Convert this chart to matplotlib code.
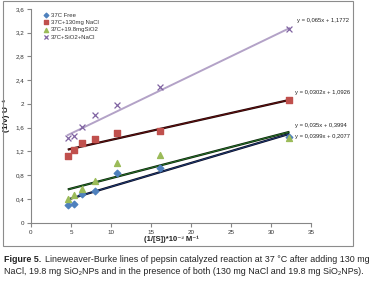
import numpy as np
from matplotlib import pyplot as plt
from matplotlib.patches import Rectangle

# 1/[S] values (x 10^-3 M^-1), same for all four series
s_inv = [4.6, 5.4, 6.4, 8.0, 10.7, 16.1, 32.3]

free = [0.30, 0.315, 0.48, 0.535, 0.845, 0.92, 1.45]
nacl = [1.125, 1.23, 1.35, 1.41, 1.51, 1.55, 2.07]
sio2 = [0.40, 0.47, 0.56, 0.71, 1.00, 1.14, 1.42]
both = [1.42, 1.46, 1.62, 1.81, 1.99, 2.29, 3.26]

# trendline fits as printed on the chart (slope, intercept)
fit_free = (0.0399, 0.2077)
fit_nacl = (0.0302, 1.0926)
fit_sio2 = (0.035, 0.3994)
fit_both = (0.065, 1.1772)

labels = ['37C Free', '37C+130mg NaCl', '37C+19.8mgSiO2', '37C+SiO2+NaCl']
eq_text = ['y = 0,0399x + 0,2077', 'y = 0,0302x + 1,0926',
           'y = 0,035x + 0,3994', 'y = 0,065x + 1,1772']

xticks = [0, 5, 10, 15, 20, 25, 30, 35]
yticks = [0, 0.4, 0.8, 1.2, 1.6, 2.0, 2.4, 2.8, 3.2, 3.6]
ytick_labels = ['0', '0,4', '0,8', '1,2', '1,6', '2', '2,4', '2,8', '3,2', '3,6']

caption_bold = 'Figure 5.'
caption_1 = 'Lineweaver-Burke lines of pepsin catalyzed reaction at 37 °C after adding 130 mg'
caption_2 = 'NaCl, 19.8 mg SiO₂NPs and in the presence of both (130 mg NaCl and 19.8 mg SiO₂NPs).'

plt.rcParams['font.family'] = ['Liberation Sans', 'DejaVu Sans']

fig = plt.figure(figsize=(3.76, 2.81), dpi=100)
fig.patches.append(Rectangle((3/376, 1 - 246/281), 350/376, 245/281,
                             transform=fig.transFigure, fill=False,
                             edgecolor='#8c8c8c', linewidth=0.8))
ax = fig.add_axes([31/376, 1 - 222.7/281, 280/376, 213.7/281])

xs = np.array([min(s_inv), max(s_inv)])

# trendlines (Excel style, dark edge around a coloured core)
for (m, b), core, edge in [(fit_free, '#1f3f7a', '#0a0a20'),
                           (fit_sio2, '#2a7a2a', '#0a200a'),
                           (fit_nacl, '#6a1010', '#200505')]:
    ax.plot(xs, m * xs + b, color=edge, lw=1.6, solid_capstyle='butt', zorder=2)
    ax.plot(xs, m * xs + b, color=core, lw=0.6, solid_capstyle='butt', zorder=2)
m, b = fit_both
ax.plot(xs, m * xs + b, color='#b3a2c7', lw=1.4, zorder=2)

ax.scatter(s_inv, free, marker='D', s=11, color='#4f81bd', label=labels[0], zorder=3)
ax.scatter(s_inv, nacl, marker='s', s=16, color='#c0504d', label=labels[1], zorder=3)
ax.scatter(s_inv, sio2, marker='^', s=18, color='#9bbb59', label=labels[2], zorder=3)
ax.scatter(s_inv, both, marker='x', s=18, color='#8064a2', linewidths=0.9,
           label=labels[3], zorder=3)

ax.set_xlim(0, 35)
ax.set_ylim(0, 3.6)
ax.set_xticks(xticks)
ax.set_yticks(yticks)
ax.set_yticklabels(ytick_labels)
for sp in ['top', 'right']:
    ax.spines[sp].set_visible(False)
for sp in ['left', 'bottom']:
    ax.spines[sp].set_color('#868686')
    ax.spines[sp].set_linewidth(0.8)
ax.tick_params(colors='#868686', labelcolor='#333333', labelsize=4.5,
               length=3, width=0.8, pad=2)

ax.set_xlabel('(1/[S])*10⁻³ M⁻¹', fontsize=5.5, fontweight='bold', labelpad=1,
              color='#222222')
ax.set_ylabel('(1/v) U⁻¹', fontsize=6, fontweight='bold', labelpad=4,
              color='#222222')

eq_pos = [(33.0, 1.45), (33.0, 2.19), (33.0, 1.63), (33.25, 3.41)]
for (ex, ey), t in zip(eq_pos, eq_text):
    ax.text(ex, ey, t, fontsize=4.2, va='center', ha='left', clip_on=False,
            color='#222222')

leg = ax.legend(loc='upper left', bbox_to_anchor=(0.03, 1.0), frameon=False,
                fontsize=4.3, handletextpad=0.3, labelspacing=0.35,
                borderaxespad=0.2, labelcolor='#333333', handlelength=1.0,
                scatterpoints=1, markerscale=0.7)

# caption: fit the first line to the width of the image
renderer = fig.canvas.get_renderer()
fs = 6.5
tb = fig.text(4/376, 1 - 259/281, caption_bold, fontsize=fs, fontweight='bold',
              va='center', color='#222222')
t1 = fig.text(0.5, 1 - 259/281, caption_1, fontsize=fs, va='center', color='#222222')
for _ in range(3):
    wb = tb.get_window_extent(renderer).width
    w1 = t1.get_window_extent(renderer).width
    fs *= (362 - 4) / (wb + w1)
    tb.set_fontsize(fs)
    t1.set_fontsize(fs)
wb = tb.get_window_extent(renderer).width
t1.set_x((4 + wb + 4) / 376)
fig.text(4/376, 1 - 272/281, caption_2, fontsize=fs, va='center', color='#222222')

fig.savefig('out.png', dpi=100)
